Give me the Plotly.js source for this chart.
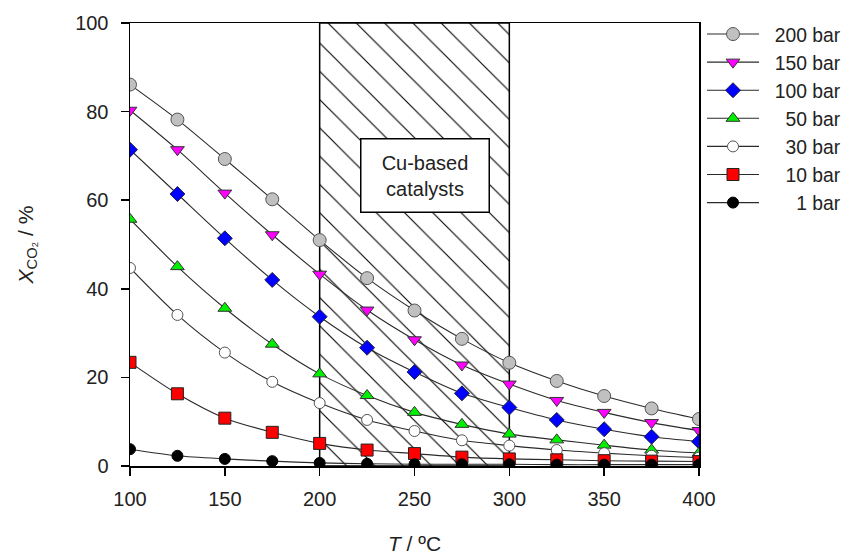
<!DOCTYPE html>
<html>
<head>
<meta charset="utf-8">
<script src="https://cdn.plot.ly/plotly-3.0.1.min.js"></script>
<style>html,body{margin:0;padding:0;background:#fff;}#chart{width:853px;height:558px;}</style>
</head>
<body>
<div id="chart"></div>
<script>
// Temperatures (°C)
const temperature = [100, 125, 150, 175, 200, 225, 250, 275, 300, 325, 350, 375, 400];
// CO2 conversion (%) per pressure
const conv200 = [86.1, 78.2, 69.3, 60.2, 51.0, 42.4, 35.1, 28.7, 23.3, 19.2, 15.8, 13.0, 10.6];
const conv150 = [80.3, 71.4, 61.6, 52.2, 43.3, 35.2, 28.5, 22.8, 18.5, 14.8, 12.1, 9.8, 8.0];
const conv100 = [71.4, 61.4, 51.4, 42.0, 33.7, 26.7, 21.2, 16.4, 13.2, 10.4, 8.3, 6.6, 5.5];
const conv50  = [55.7, 45.0, 35.6, 27.5, 20.8, 15.9, 12.1, 9.4, 7.2, 5.9, 4.7, 3.6, 2.9];
const conv30  = [44.7, 34.1, 25.6, 19.0, 14.2, 10.4, 7.9, 5.8, 4.6, 3.6, 2.9, 2.3, 1.9];
const conv10  = [23.4, 16.3, 10.8, 7.6, 5.1, 3.6, 2.8, 2.0, 1.6, 1.4, 1.2, 1.1, 1.0];
const conv1   = [3.8, 2.3, 1.6, 1.1, 0.7, 0.5, 0.4, 0.4, 0.4, 0.3, 0.3, 0.3, 0.3];
const seriesNames = ['200 bar', '150 bar', '100 bar', '50 bar', '30 bar', '10 bar', '1 bar'];
// Temperature window of Cu-based catalysts (°C)
const cuRange = [200, 300];
const cuLabel = 'Cu-based<br>catalysts';

const seriesData = [conv200, conv150, conv100, conv50, conv30, conv10, conv1];
const styles = [
  {symbol: 'circle', color: '#c0c0c0', line: '#555555', size: 13},
  {symbol: 'triangle-down', color: '#ff00ff', line: '#333333', size: 12},
  {symbol: 'diamond', color: '#0000ff', line: '#222244', size: 11.5},
  {symbol: 'triangle-up', color: '#00ee00', line: '#333333', size: 12},
  {symbol: 'circle', color: '#ffffff', line: '#555555', size: 11},
  {symbol: 'square', color: '#ff0000', line: '#222222', size: 12},
  {symbol: 'circle', color: '#000000', line: '#000000', size: 11}
];
// right-align legend labels with non-breaking spaces (digit = 2 spaces)
const maxLen = Math.max(...seriesNames.map(s => s.length));
function padName(s) { return '\u00A0'.repeat(2 * (maxLen - s.length) + 2) + s; }

const traces = [];
traces.push({
  type: 'bar',
  x: [(cuRange[0] + cuRange[1]) / 2],
  y: [100],
  base: [0],
  width: [cuRange[1] - cuRange[0]],
  showlegend: false,
  hoverinfo: 'skip',
  marker: {
    color: '#ffffff',
    line: {color: '#000000', width: 1.5},
    pattern: {shape: '\\', size: 20, solidity: 0.055, fgcolor: '#000000', bgcolor: '#ffffff'}
  }
});
seriesData.forEach((vals, i) => {
  const st = styles[i];
  traces.push({
    type: 'scatter',
    mode: 'lines+markers',
    name: padName(seriesNames[i]),
    x: temperature,
    y: vals,
    line: {color: '#2a2a2a', width: 1.1, shape: 'spline', smoothing: 0.8},
    marker: {symbol: st.symbol, color: st.color, size: st.size, line: {color: st.line, width: 1}}
  });
});

const font = {family: 'Arial, "Liberation Sans", sans-serif', size: 20, color: '#222222'};
const legendFont = {family: 'Arial, "Liberation Sans", sans-serif', size: 19.3, color: '#222222'};
const titleFont = {family: 'Arial, "Liberation Sans", sans-serif', size: 21, color: '#222222'};
const layout = {
  width: 853, height: 558,
  margin: {l: 130, r: 154, t: 23, b: 92},
  paper_bgcolor: '#ffffff', plot_bgcolor: '#ffffff',
  font: font,
  showlegend: true,
  legend: {
    xref: 'container', yref: 'container',
    x: 702 / 853, xanchor: 'left', y: 1 - 15 / 558, yanchor: 'top',
    font: legendFont, bgcolor: 'rgba(0,0,0,0)', borderwidth: 0,
    itemwidth: 52, traceorder: 'normal'
  },
  xaxis: {
    range: [100, 400], tickvals: [100, 150, 200, 250, 300, 350, 400],
    ticks: 'outside', ticklen: 8, tickwidth: 1.5, tickcolor: '#000',
    showline: true, linecolor: '#000', linewidth: 1.5, mirror: true,
    showgrid: false, zeroline: false, ticklabelstandoff: 6,
    title: {text: '<i>T</i> / ºC', font: titleFont, standoff: 28}
  },
  yaxis: {
    range: [0, 100], tickvals: [0, 20, 40, 60, 80, 100],
    ticks: 'outside', ticklen: 8, tickwidth: 1.5, tickcolor: '#000',
    showline: true, linecolor: '#000', linewidth: 1.5, mirror: true,
    showgrid: false, zeroline: false, ticklabelstandoff: 8,
    title: {text: '<i>X</i><sub>CO₂</sub> / %', font: titleFont, standoff: 36}
  },
  annotations: [{
    x: (cuRange[0] + cuRange[1]) / 2 + 5.5, y: 65.5, xref: 'x', yref: 'y',
    text: cuLabel, showarrow: false, align: 'center',
    width: 125, height: 70, bgcolor: '#ffffff', bordercolor: '#000000', borderwidth: 1.5,
    font: font
  }]
};
Plotly.newPlot('chart', traces, layout, {displayModeBar: false, staticPlot: true});
</script>
</body>
</html>
